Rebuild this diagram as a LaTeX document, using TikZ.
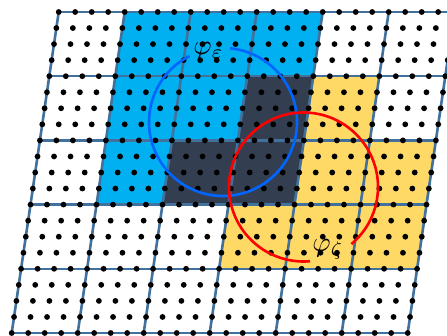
\documentclass[tikz,border=0pt]{standalone}
\usepackage{tikz}
\definecolor{gridline}{RGB}{65,113,156}
\definecolor{cellblue}{RGB}{0,176,240}
\definecolor{cellyellow}{RGB}{255,217,102}
\definecolor{celldark}{RGB}{51,63,80}
\definecolor{ringblue}{RGB}{0,102,255}
\tikzset{
  cellpatch/.style={fill=#1},
  ring/.style={draw=#1,line width=2.6pt},
  latdot/.style={fill=black},
  ringlabel/.style={scale=2.8,inner sep=0pt}
}
\begin{document}
\begin{tikzpicture}[x=1pt,y=1pt]
\useasboundingbox (0,0) rectangle (447,335);
\clip (0,0) rectangle (447,335);
\begin{scope}[shift={(58.7,323)},x={(16.5pt,0pt)},y={(-2.35pt,-16.05pt)}]
% coloured cells (row/column)
\foreach \r/\c in {0/1,0/2,0/3,1/1,1/2,2/1}
  \path[cellpatch=cellblue] (4*\c,4*\r) -- ++(4,0) -- ++(0,4) -- ++(-4,0) -- cycle;
\foreach \r/\c in {1/4,2/4,2/5,3/3,3/4,3/5}
  \path[cellpatch=cellyellow] (4*\c,4*\r) -- ++(4,0) -- ++(0,4) -- ++(-4,0) -- cycle;
\foreach \r/\c in {1/3,2/2,2/3}
  \path[cellpatch=celldark] (4*\c,4*\r) -- ++(4,0) -- ++(0,4) -- ++(-4,0) -- cycle;
% cell borders
\foreach \j in {0,4,...,20} \draw[gridline,line width=2.6pt] (0,\j) -- (24,\j);
\foreach \i in {0,4,...,24} \draw[gridline,line width=2.6pt] (\i,0) -- (\i,20);
% lattice points
\foreach \i in {0,...,24} \foreach \j in {0,...,20} \path[latdot] (\i,\j) circle (2.9pt);
\end{scope}
\coordinate (ce) at (223,213);
\coordinate (cz) at (303.5,148);
\draw[ring=ringblue] (ce) ++(117:74) arc[start angle=117,end angle=444.5,radius=74];
\draw[ring=red] (cz) ++(-50:74.5) arc[start angle=-50,end angle=275,radius=74.5];
\node[ringlabel] (phie) at (208.5,284) {$\varphi_\varepsilon$};
\node[ringlabel] (phiz) at (328,86) {$\varphi_\zeta$};
\end{tikzpicture}
\end{document}
